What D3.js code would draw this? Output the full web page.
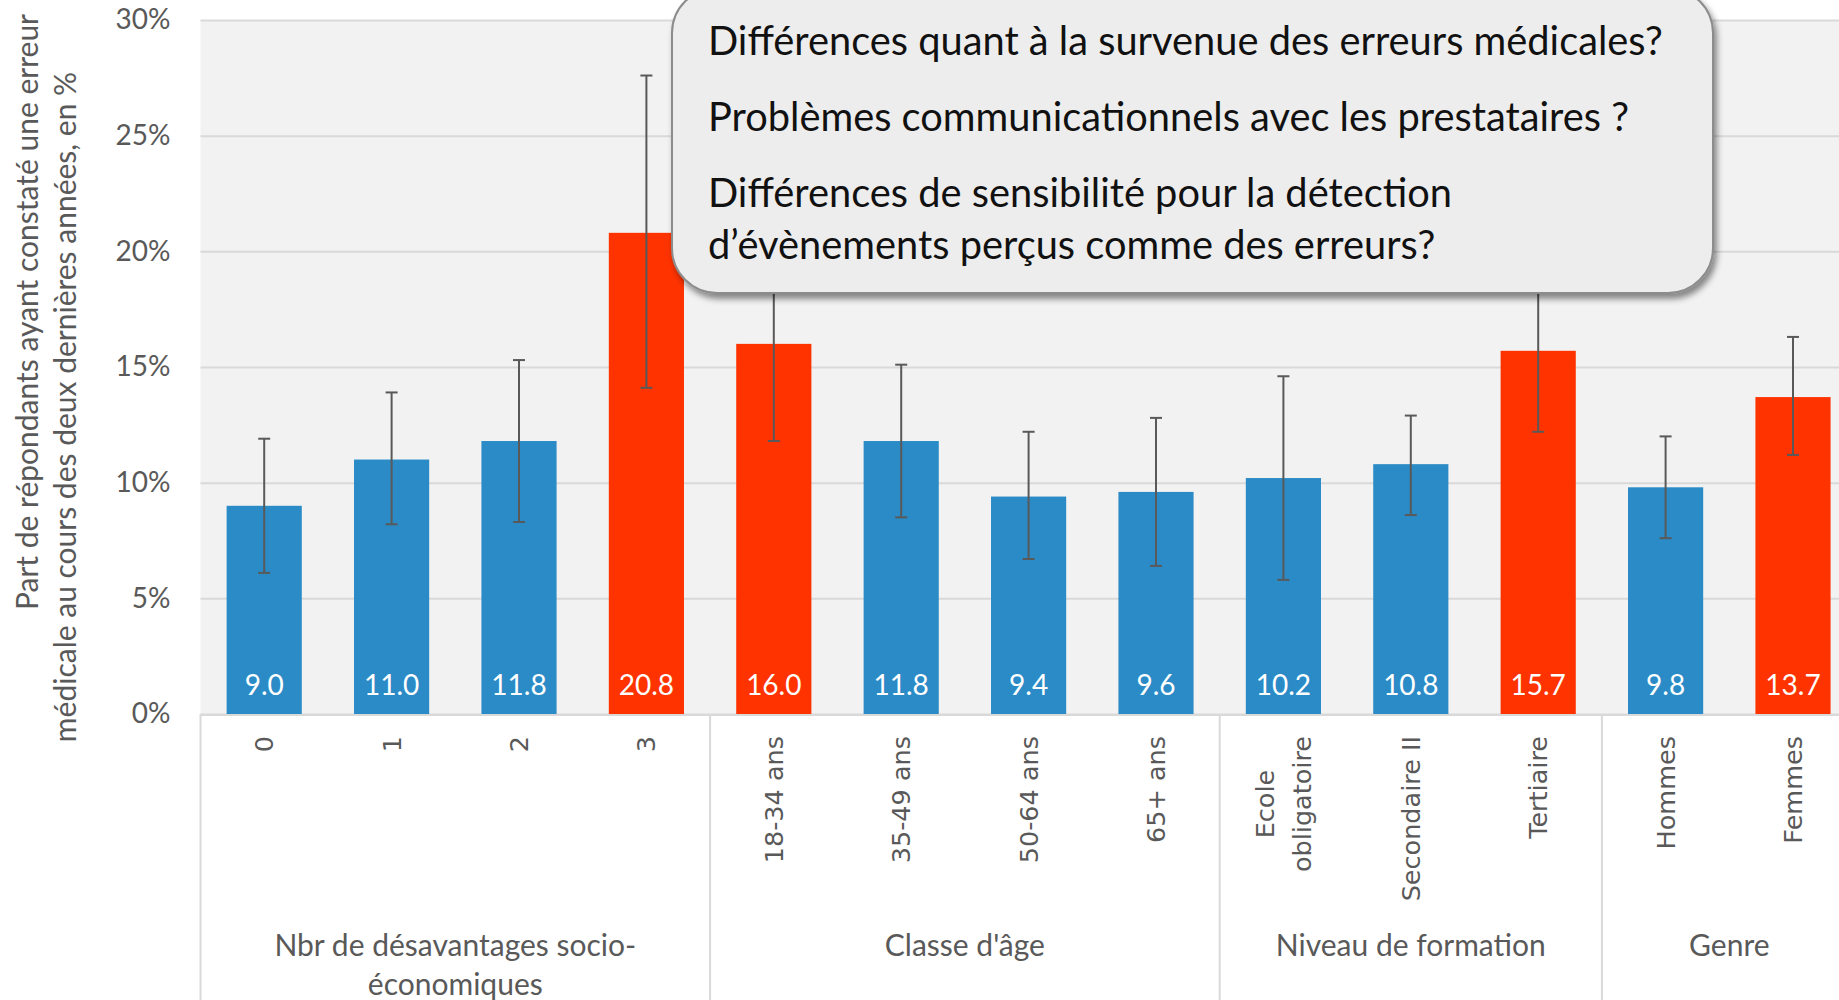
<!DOCTYPE html>
<html>
<head>
<meta charset="utf-8">
<title>Erreurs médicales</title>
<script src="https://d3js.org/d3.v7.min.js"></script>
<style>
    body { margin: 0; background: #fff; }
    svg { display: block; }
    .ylab text { font-family: Lato, sans-serif; font-size: 28px; fill: #595959; }
    .grid line { stroke: #D9D9D9; stroke-width: 2; }
</style>
</head>
<body>
<div id="chart"></div>
<script>
    // data
    const categories = ["0", "1", "2", "3", "18-34 ans", "35-49 ans", "50-64 ans", "65+ ans",
        "Ecole obligatoire", "Secondaire II", "Tertiaire", "Hommes", "Femmes"];
    const tickLabels = [["0"], ["1"], ["2"], ["3"], ["18-34 ans"], ["35-49 ans"], ["50-64 ans"], ["65+ ans"],
        ["Ecole", "obligatoire"], ["Secondaire II"], ["Tertiaire"], ["Hommes"], ["Femmes"]];
    const values = [9.0, 11.0, 11.8, 20.8, 16.0, 11.8, 9.4, 9.6, 10.2, 10.8, 15.7, 9.8, 13.7];
    const errLow = [6.1, 8.2, 8.3, 14.1, 11.8, 8.5, 6.7, 6.4, 5.8, 8.6, 12.2, 7.6, 11.2];
    const errHigh = [11.9, 13.9, 15.3, 27.6, 20.4, 15.1, 12.2, 12.8, 14.6, 12.9, 19.4, 12.0, 16.3];
    const highlighted = ["3", "18-34 ans", "Tertiaire", "Femmes"];
    const groups = [
        {label: ["Nbr de désavantages socio-", "économiques"], first: "0", last: "3"},
        {label: ["Classe d'âge"], first: "18-34 ans", last: "65+ ans"},
        {label: ["Niveau de formation"], first: "Ecole obligatoire", last: "Tertiaire"},
        {label: ["Genre"], first: "Hommes", last: "Femmes"}
    ];
    const yTicks = [0, 5, 10, 15, 20, 25, 30];
    const yTitle = ["Part de répondants ayant constaté une erreur",
        "médicale au cours des deux dernières années, en %"];
    const callout = ["Différences quant à la survenue des erreurs médicales?",
        "Problèmes communicationnels avec les prestataires ?",
        "Différences de sensibilité pour la détection",
        "d\u2019évènements perçus comme des erreurs?"];

    const width = 1839, height = 1000;
    const plot = {left: 200.5, right: 1856.7, top: 20, bottom: 714};

    const svg = d3.select("#chart").append("svg")
        .attr("width", width)
        .attr("height", height);

    const defs = svg.append("defs");
    const shadow = defs.append("filter").attr("id", "shadow")
        .attr("x", "-10%").attr("y", "-10%").attr("width", "120%").attr("height", "130%");
    shadow.append("feDropShadow")
        .attr("dx", 3).attr("dy", 5).attr("stdDeviation", 3)
        .attr("flood-color", "#000").attr("flood-opacity", 0.45);

    const x = d3.scaleBand()
        .domain(categories)
        .range([plot.left, plot.right])
        .paddingInner(0.41)
        .paddingOuter(0.205);
    const y = d3.scaleLinear().domain([0, 30]).range([plot.bottom, plot.top]);
    const gap = (x.step() - x.bandwidth()) / 2;

    // plot background
    svg.append("rect")
        .attr("x", plot.left).attr("y", plot.top)
        .attr("width", plot.right - plot.left).attr("height", plot.bottom - plot.top)
        .attr("fill", "#F2F2F2");

    // gridlines
    svg.append("g")
        .attr("class", "grid")
        .attr("transform", "translate(" + plot.left + ",0)")
        .call(d3.axisLeft(y).tickValues(yTicks).tickSize(-(plot.right - plot.left)).tickFormat(""))
        .call(g => g.select(".domain").remove());

    // y labels
    svg.append("g")
        .attr("class", "ylab")
        .attr("transform", "translate(" + (plot.left - 10) + ",0)")
        .call(d3.axisLeft(y).tickValues(yTicks).tickSize(0).tickPadding(20).tickFormat(d => d + "%"))
        .call(g => g.select(".domain").remove());

    // bars
    svg.selectAll(".bar")
        .data(categories)
        .enter().append("rect")
        .attr("class", "bar")
        .attr("x", d => x(d))
        .attr("y", (d, i) => y(values[i]))
        .attr("width", x.bandwidth())
        .attr("height", (d, i) => y(0) - y(values[i]))
        .attr("fill", d => highlighted.includes(d) ? "#FF3300" : "#2B8BC7");

    // value labels
    svg.selectAll(".val")
        .data(categories)
        .enter().append("text")
        .attr("x", d => x(d) + x.bandwidth() / 2)
        .attr("y", y(0) - 19)
        .attr("text-anchor", "middle")
        .style("font-family", "Lato, sans-serif")
        .style("font-size", "28px")
        .style("fill", "#fff")
        .text((d, i) => values[i].toFixed(1));

    // error bars
    const err = svg.selectAll(".err")
        .data(categories)
        .enter().append("g")
        .attr("stroke", "#595959")
        .attr("stroke-width", 2);
    err.append("line")
        .attr("x1", d => x(d) + x.bandwidth() / 2).attr("x2", d => x(d) + x.bandwidth() / 2)
        .attr("y1", (d, i) => y(errLow[i])).attr("y2", (d, i) => y(errHigh[i]));
    err.append("line")
        .attr("x1", d => x(d) + x.bandwidth() / 2 - 6).attr("x2", d => x(d) + x.bandwidth() / 2 + 6)
        .attr("y1", (d, i) => y(errLow[i])).attr("y2", (d, i) => y(errLow[i]));
    err.append("line")
        .attr("x1", d => x(d) + x.bandwidth() / 2 - 6).attr("x2", d => x(d) + x.bandwidth() / 2 + 6)
        .attr("y1", (d, i) => y(errHigh[i])).attr("y2", (d, i) => y(errHigh[i]));

    // baseline + group separators
    svg.append("line")
        .attr("x1", plot.left).attr("x2", plot.right)
        .attr("y1", y(0) + 1).attr("y2", y(0) + 1)
        .attr("stroke", "#D9D9D9").attr("stroke-width", 2);
    const bounds = [categories[0]].concat(groups.slice(1).map(g => g.first));
    svg.selectAll(".sep")
        .data(bounds)
        .enter().append("line")
        .attr("x1", d => x(d) - gap).attr("x2", d => x(d) - gap)
        .attr("y1", y(0)).attr("y2", height)
        .attr("stroke", "#D9D9D9").attr("stroke-width", 2);

    // rotated category labels
    const tickTop = 736, tickLine = 37;
    tickLabels.forEach(function(lines, i) {
        const cx = x(categories[i]) + x.bandwidth() / 2;
        const g = svg.append("g");
        const texts = lines.map(function(line, j) {
            return g.append("text")
                .attr("text-anchor", "middle")
                .attr("dominant-baseline", "central")
                .attr("x", 0)
                .attr("y", (j - (lines.length - 1) / 2) * tickLine)
                .style("font-family", "'DejaVu Sans', sans-serif")
                .style("font-size", "25.5px")
                .style("fill", "#595959")
                .text(line);
        });
        const len = d3.max(texts, t => t.node().getComputedTextLength());
        g.attr("transform", "translate(" + cx + "," + (tickTop + len / 2) + ") rotate(-90)");
    });

    // group labels
    groups.forEach(function(grp) {
        const x0 = x(grp.first) - gap, x1 = x(grp.last) + x.bandwidth() + gap;
        grp.label.forEach(function(line, j) {
            svg.append("text")
                .attr("x", (x0 + x1) / 2)
                .attr("y", 956 + j * 39)
                .attr("text-anchor", "middle")
                .style("font-family", "Lato, sans-serif")
                .style("font-size", "30px")
                .style("fill", "#595959")
                .text(line);
        });
    });

    // y axis title, two rotated lines
    const titleCenters = [[26, 312], [64, 407]];
    yTitle.forEach(function(line, j) {
        svg.append("text")
            .attr("transform", "translate(" + titleCenters[j][0] + "," + titleCenters[j][1] + ") rotate(-90)")
            .attr("text-anchor", "middle")
            .attr("dominant-baseline", "central")
            .style("font-family", "Lato, sans-serif")
            .style("font-size", "30px")
            .style("fill", "#595959")
            .text(line);
    });

    // callout box
    svg.append("rect")
        .attr("x", 672).attr("y", -12)
        .attr("width", 1041).attr("height", 305)
        .attr("rx", 45).attr("ry", 45)
        .attr("fill", "#EDEDED")
        .attr("stroke", "#8C8C8C").attr("stroke-width", 2)
        .attr("filter", "url(#shadow)");
    const calloutBase = [55, 131, 207, 259];
    callout.forEach(function(line, j) {
        svg.append("text")
            .attr("x", 708).attr("y", calloutBase[j])
            .style("font-family", "Lato, sans-serif")
            .style("font-size", "39.8px")
            .style("fill", "#111")
            .text(line);
    });
</script>
</body>
</html>
